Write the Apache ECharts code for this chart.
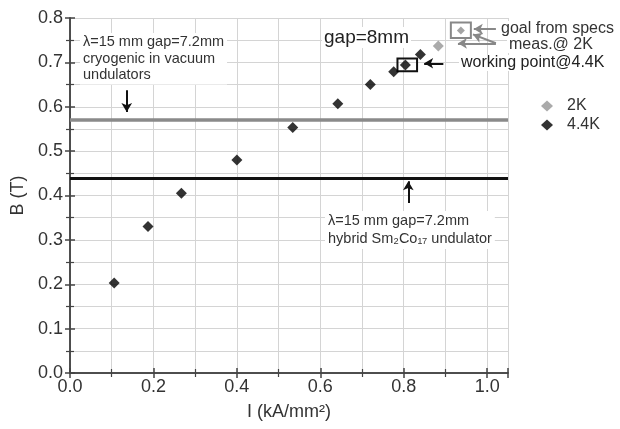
<!DOCTYPE html>
<html><head><meta charset="utf-8">
<script src="https://cdn.jsdelivr.net/npm/echarts@6/dist/echarts.min.js"></script>
<style>html,body{margin:0;padding:0;background:#fff}#c{width:620px;height:429px}</style>
</head><body><div id="c"></div>
<script>
var xTicks = [0.0, 0.2, 0.4, 0.6, 0.8, 1.0];
var yTicks = [0.0, 0.1, 0.2, 0.3, 0.4, 0.5, 0.6, 0.7, 0.8];
var I_44K = [0.106, 0.187, 0.267, 0.400, 0.534, 0.642, 0.720, 0.776, 0.804, 0.840];
var B_44K = [0.203, 0.330, 0.405, 0.480, 0.553, 0.607, 0.650, 0.679, 0.694, 0.718];
var I_2K = [0.883];
var B_2K = [0.737];
var goalPoint = [0.937, 0.772];
var cryoLevel = 0.57;
var hybridLevel = 0.44;

function pairs(xs, ys){ return xs.map(function(x,i){ return [x, ys[i]]; }); }

var font = '"Liberation Sans", Arial, sans-serif';
var chart = echarts.init(document.getElementById('c'));
function gl(){ return {show:true, lineStyle:{color:'#d4d4d4', width:1, type:'solid'}}; }
function arrow(x1,y1,x2,y2,color){
  return [{coord:[x1,y1], lineStyle:{color:color, width:2, type:'solid'}},{coord:[x2,y2]}];
}
chart.setOption({
  animation:false,
  textStyle:{fontFamily:font},
  grid:{left:70, right:112, top:18, bottom:56},
  legend:{
    data:['2K','4.4K'], orient:'vertical', left:536, top:93, itemGap:3,
    itemWidth:12, itemHeight:11,
    textStyle:{fontSize:16, color:'#333', fontFamily:font, padding:[0,0,0,9]}
  },
  xAxis:[{
    type:'value', min:0, max:1.05, interval:0.2,
    name:'I (kA/mm²)', nameLocation:'middle', nameGap:30,
    nameTextStyle:{fontSize:18, color:'#333', fontFamily:font},
    axisLine:{show:true, onZero:false, lineStyle:{color:'#444', width:1.5}},
    axisTick:{show:true, inside:true, length:5, lineStyle:{color:'#444', width:1.5}},
    minorTick:{show:true, splitNumber:2, length:4, lineStyle:{color:'#444', width:1.2}},
    axisLabel:{fontSize:18, color:'#333', margin:5, showMaxLabel:false,
      formatter:function(v){ return xTicks.indexOf(Math.round(v*10)/10) >= 0 ? v.toFixed(1) : ''; }},
    splitLine:gl(),
    minorSplitLine:gl()
  },{
    type:'value', position:'top', min:0, max:1.05, interval:0.2,
    axisLine:{show:true, lineStyle:{color:'#444', width:1.5}},
    axisTick:{show:true, inside:true, length:5, lineStyle:{color:'#444', width:1.5}},
    minorTick:{show:true, splitNumber:2, length:4, lineStyle:{color:'#444', width:1.2}},
    axisLabel:{show:false}, splitLine:{show:false}
  }],
  yAxis:[{
    type:'value', min:0, max:0.8, interval:0.1,
    name:'B (T)', nameLocation:'middle', nameGap:41,
    nameTextStyle:{fontSize:18, color:'#333', fontFamily:font},
    axisLine:{show:true, onZero:false, lineStyle:{color:'#444', width:1.5}},
    axisTick:{show:true, inside:true, length:5, lineStyle:{color:'#444', width:1.5}},
    minorTick:{show:true, splitNumber:2, length:4, lineStyle:{color:'#444', width:1.2}},
    axisLabel:{fontSize:18, color:'#333', margin:7,
      formatter:function(v){ return yTicks.indexOf(Math.round(v*10)/10) >= 0 ? v.toFixed(1) : ''; }},
    splitLine:gl(),
    minorSplitLine:gl()
  },{
    type:'value', position:'right', min:0, max:0.8, interval:0.1,
    axisLine:{show:true, lineStyle:{color:'#444', width:1.5}},
    axisTick:{show:true, inside:true, length:5, lineStyle:{color:'#444', width:1.5}},
    minorTick:{show:true, splitNumber:2, length:4, lineStyle:{color:'#444', width:1.2}},
    axisLabel:{show:false}, splitLine:{show:false}
  }],
  series:[
    {
      name:'lines', type:'scatter', data:[], silent:true, z:3,
      markLine:{
        silent:true, symbol:'none', label:{show:false}, animation:false,
        data:[
          {yAxis:cryoLevel, lineStyle:{color:'#8a8a8a', width:3.5, type:'solid'}},
          {yAxis:hybridLevel, lineStyle:{color:'#111', width:3, type:'solid'}}
        ]
      }
    },
    {
      name:'4.4K', type:'scatter', symbol:'diamond', symbolSize:11, z:5,
      itemStyle:{color:'#000'}, data:pairs(I_44K, B_44K)
    },
    {
      name:'2K', type:'scatter', symbol:'diamond', symbolSize:11, z:5,
      itemStyle:{color:'#959595'}, data:pairs(I_2K, B_2K)
    },
    {
      name:'goal', type:'scatter', symbol:'diamond', symbolSize:8, z:5,
      itemStyle:{color:'#8c8c8c'}, data:[goalPoint],
      markArea:{
        silent:true,
        data:[
          [{coord:[0.913,0.790], itemStyle:{color:'rgba(0,0,0,0)', borderColor:'#888', borderWidth:2}},{coord:[0.961,0.755]}],
          [{coord:[0.785,0.709], itemStyle:{color:'rgba(0,0,0,0)', borderColor:'#111', borderWidth:2}},{coord:[0.832,0.680]}]
        ]
      },
      markLine:{
        silent:true, symbol:['none','arrow'], symbolSize:[8,9], label:{show:false}, animation:false,
        data:[
          arrow(0.136,0.637,0.136,0.588,'#111'),
          arrow(0.811,0.383,0.811,0.432,'#111'),
          arrow(0.895,0.698,0.849,0.698,'#111'),
          arrow(1.021,0.775,0.968,0.775,'#888'),
          arrow(1.021,0.743,0.93,0.743,'#888'),
          arrow(1.021,0.743,0.966,0.763,'#888')
        ]
      }
    }
  ],
  graphic:[
    {type:'text', left:80, top:33, z:10, style:{
      text:'λ=15 mm gap=7.2mm\ncryogenic in vacuum\nundulators',
      font:'14.5px '+font, fill:'#333', lineHeight:16.5, backgroundColor:'#fff', padding:[1,3]}},
    {type:'text', left:322, top:27, z:10, style:{
      text:'gap=8mm', font:'19px '+font, fill:'#222', backgroundColor:'#fff', padding:[1,2]}},
    {type:'text', left:499, top:21, z:10, style:{
      text:'goal from specs', font:'16px '+font, fill:'#333', backgroundColor:'#fff', padding:[0,2]}},
    {type:'text', left:507, top:37, z:10, style:{
      text:'meas.@ 2K', font:'16px '+font, fill:'#333', backgroundColor:'#fff', padding:[0,2]}},
    {type:'text', left:459, top:55, z:10, style:{
      text:'working point@4.4K', font:'16px '+font, fill:'#222', backgroundColor:'#fff', padding:[0,2]}},
    {type:'text', left:325, top:211, z:10, style:{
      text:'λ=15 mm gap=7.2mm\nhybrid Sm₂Co₁₇ undulator',
      font:'14.5px '+font, fill:'#333', lineHeight:18, backgroundColor:'#fff', padding:[1,3]}}
  ]
});
</script></body></html>
